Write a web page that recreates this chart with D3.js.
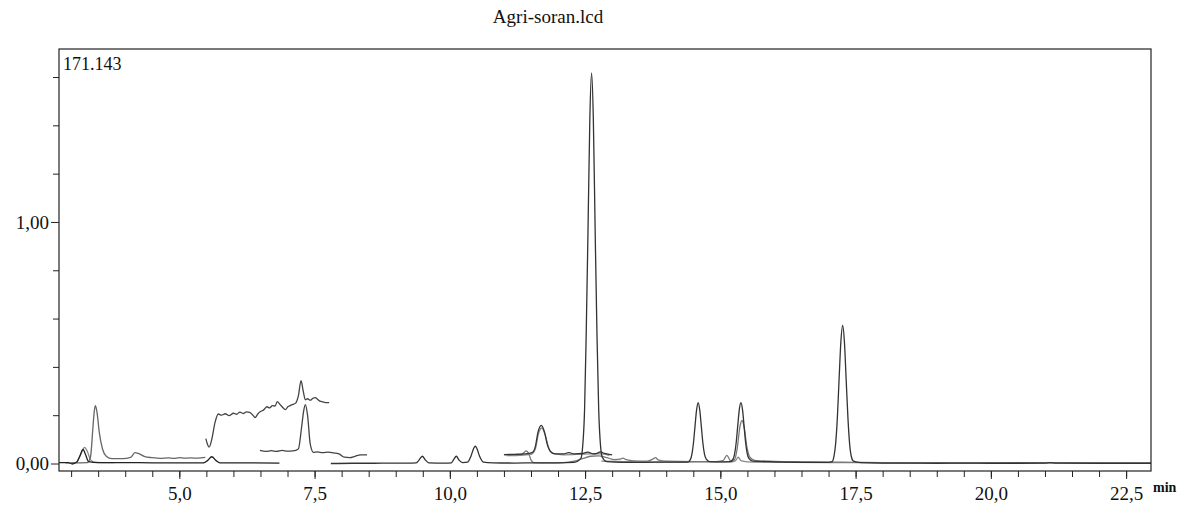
<!DOCTYPE html>
<html>
<head>
<meta charset="utf-8">
<script src="https://cdn.jsdelivr.net/npm/d3@7"></script>
<style>
  body { margin: 0; background: #fff; }
  svg { display: block; }
  .axis path { display: none; }
  .axis line { stroke: #222; }
</style>
</head>
<body>
<script>
// chart texts
var title = "Agri-soran.lcd";
var maxLabel = "171.143";
var unitLabel = "min";

// axis ticks
var xMinorTicks = d3.range(3, 23, 0.5);
var xMajorTicks = [5, 7.5, 10, 12.5, 15, 17.5, 20, 22.5];
var yMinorTicks = [0.2, 0.4, 0.6, 0.8, 1.2, 1.4, 1.6];
var yMajorTicks = [0, 1];

// traces: [time (min), signal]
var trace1 = [[2.78,0.004],[2.95,0.004],[3.02,-0.002],[3.1,0.005],[3.16,0.03],[3.22,0.058],[3.27,0.035],[3.32,0.008],[3.5,0.004],
  [4.0,0.004],[4.5,0.003],[5.0,0.003],[5.45,0.003],[5.52,0.012],[5.6,0.028],[5.68,0.012],[5.75,0.003],[6.3,0.003],[6.85,0.002]];

var trace2 = [[3.0,0.003],[3.3,0.004],[3.36,0.03],[3.4,0.14],[3.43,0.22],[3.45,0.24],[3.48,0.21],[3.52,0.13],[3.58,0.06],[3.65,0.03],
  [3.75,0.02],[3.95,0.02],[4.1,0.025],[4.18,0.045],[4.24,0.042],[4.35,0.03],[4.5,0.024],[4.65,0.021],[4.8,0.023],[4.9,0.021],
  [5.0,0.024],[5.1,0.022],[5.2,0.023],[5.35,0.022],[5.48,0.025]];

var trace3 = [[2.9,0.002],[3.1,0.005],[3.18,0.04],[3.25,0.067],[3.3,0.05],[3.36,0.015],[3.45,0.005],[3.8,0.004]];

var trace4 = [[5.49,0.103],[5.52,0.08],[5.55,0.068],[5.6,0.1],[5.66,0.17],[5.72,0.205],[5.78,0.2],[5.85,0.206],[5.92,0.198],
  [6.0,0.208],[6.06,0.204],[6.12,0.213],[6.18,0.207],[6.24,0.214],[6.3,0.212],[6.36,0.2],[6.4,0.19],[6.45,0.205],[6.5,0.215],
  [6.56,0.222],[6.62,0.235],[6.67,0.23],[6.72,0.24],[6.77,0.238],[6.81,0.256],[6.86,0.245],[6.9,0.235],[6.96,0.223],[7.01,0.236],
  [7.05,0.24],[7.1,0.245],[7.15,0.25],[7.2,0.28],[7.25,0.343],[7.29,0.3],[7.33,0.264],[7.37,0.268],[7.42,0.262],[7.47,0.27],
  [7.51,0.273],[7.56,0.265],[7.6,0.258],[7.65,0.255],[7.7,0.252],[7.77,0.252]];

var trace5 = [[6.49,0.054],[6.6,0.05],[6.7,0.053],[6.8,0.05],[6.9,0.054],[7.0,0.051],[7.1,0.052],[7.2,0.06],[7.26,0.15],[7.3,0.22],
  [7.33,0.244],[7.37,0.2],[7.42,0.08],[7.48,0.046],[7.55,0.048],[7.65,0.045],[7.75,0.047],[7.85,0.044],[7.95,0.04],[8.05,0.026],
  [8.15,0.024],[8.25,0.03],[8.35,0.036],[8.47,0.036]];

var traceMain = [[7.8,0.0],[8.2,0.001],[8.6,0.001],[8.9,0.002],[9.2,0.002],[9.38,0.003],[9.43,0.014],[9.49,0.03],[9.55,0.014],[9.61,0.003],
  [9.9,0.002],[10.03,0.003],[10.07,0.016],[10.12,0.03],[10.17,0.014],[10.24,0.004],[10.33,0.006],[10.39,0.03],[10.44,0.062],[10.47,0.072],
  [10.5,0.062],[10.55,0.03],[10.62,0.006],[10.8,0.003],[11.2,0.002],[11.6,0.003],[12.0,0.003],[12.3,0.005],[12.42,0.02],[12.455,0.07],
  [12.49,0.22],[12.52,0.53],[12.555,0.98],[12.588,1.43],[12.62,1.617],[12.652,1.43],[12.685,0.98],[12.72,0.53],[12.752,0.22],[12.785,0.075],
  [12.82,0.025],[12.9,0.008],[13.2,0.005],[13.6,0.005],[14.0,0.006],[14.4,0.006],[14.445,0.016],[14.474,0.038],[14.503,0.085],[14.532,0.155],
  [14.561,0.222],[14.59,0.252],[14.619,0.222],[14.648,0.155],[14.677,0.085],[14.706,0.04],[14.74,0.018],[14.8,0.008],[15.0,0.007],
  [15.19,0.008],[15.235,0.018],[15.264,0.04],[15.293,0.087],[15.322,0.157],[15.351,0.224],[15.38,0.252],[15.409,0.224],[15.438,0.157],
  [15.467,0.087],[15.496,0.042],[15.53,0.02],[15.6,0.01],[16.0,0.007],[16.5,0.005],[17.0,0.005],[17.065,0.008],[17.1,0.03],[17.13,0.08],
  [17.163,0.19],[17.195,0.35],[17.228,0.505],[17.26,0.572],[17.293,0.505],[17.325,0.35],[17.358,0.19],[17.39,0.08],[17.42,0.03],
  [17.46,0.01],[17.6,0.004],[18.0,0.002],[18.5,0.002],[19.0,0.001],[19.5,0.002],[20.0,0.001],[20.5,0.001],[21.0,0.002],[21.1,0.004],
  [21.2,0.002],[22.0,0.001],[22.96,0.001]];

var trace6 = [[11.0,0.037],[11.15,0.036],[11.3,0.037],[11.36,0.043],[11.41,0.052],[11.46,0.04],[11.5,0.015],[11.55,0.004],[11.8,0.003],
  [12.1,0.004],[12.3,0.01],[12.45,0.02],[12.6,0.03],[12.75,0.032],[12.9,0.024],[13.05,0.016],[13.15,0.018],[13.2,0.022],[13.26,0.016],
  [13.4,0.011],[13.65,0.01],[13.75,0.018],[13.8,0.024],[13.86,0.014],[14.0,0.01],[14.5,0.008],[14.9,0.008],[15.05,0.012],[15.12,0.034],
  [15.19,0.012],[15.26,0.016],[15.31,0.06],[15.36,0.15],[15.4,0.178],[15.44,0.15],[15.49,0.07],[15.55,0.025],[15.65,0.012],[16.0,0.009],
  [16.5,0.007],[17.0,0.006],[17.5,0.005],[18.0,0.004],[19.0,0.003],[20.0,0.003],[21.0,0.004],[22.0,0.002],[22.96,0.002]];

var trace7 = [[11.0,0.037],[11.2,0.038],[11.4,0.04],[11.52,0.045],[11.58,0.07],[11.63,0.13],[11.69,0.158],[11.75,0.13],[11.8,0.08],
  [11.86,0.05],[11.95,0.04],[12.1,0.04],[12.2,0.045],[12.3,0.04],[12.45,0.042],[12.55,0.047],[12.65,0.04],[12.72,0.042],[12.78,0.048],
  [12.86,0.042],[13.0,0.036]];

var trace8 = [[11.05,0.033],[11.3,0.034],[11.5,0.038],[11.58,0.06],[11.64,0.125],[11.7,0.147],[11.76,0.12],[11.82,0.07],[11.9,0.042],
  [12.1,0.036],[12.4,0.038],[12.6,0.04],[12.8,0.04],[12.95,0.034]];

var trace9 = [[12.8,0.01],[13.2,0.008],[13.8,0.006],[14.3,0.006],[14.8,0.007],[15.2,0.007],[15.28,0.012],[15.33,0.026],[15.38,0.012],
  [15.5,0.007],[16,0.005],[17,0.004],[18,0.003],[19,0.002],[20,0.002],[21,0.003],[22.96,0.002]];

var traces = [
  {data: trace9, color: "#888"},
  {data: trace6, color: "#777"},
  {data: trace8, color: "#888"},
  {data: trace3, color: "#888"},
  {data: trace2, color: "#666"},
  {data: trace4, color: "#444"},
  {data: trace5, color: "#444"},
  {data: trace7, color: "#333"},
  {data: trace1, color: "#222"},
  {data: traceMain, color: "#333"}
];

var serif = "'Liberation Serif', 'Times New Roman', serif";

var width = 1184,
    height = 506;
var margin = {top: 49, right: 33, bottom: 35, left: 59};
var plotW = width - margin.left - margin.right,
    plotH = height - margin.top - margin.bottom;

var x = d3.scaleLinear().domain([2.776, 22.96]).range([0, plotW]);
var y = d3.scaleLinear().domain([-0.031, 1.716]).range([plotH, 0]);

var commaFmt = function(f) { return function(d) { return d3.format(f)(d).replace(".", ","); }; };

var svg = d3.select("body").append("svg")
    .attr("width", width)
    .attr("height", height);

svg.append("text")
    .attr("x", 548)
    .attr("y", 23)
    .attr("text-anchor", "middle")
    .attr("fill", "#111")
    .style("font-family", serif)
    .style("font-size", "19px")
    .text(title);

var g = svg.append("g")
    .attr("transform", "translate(" + margin.left + "," + margin.top + ")");

g.append("clipPath").attr("id", "clip")
  .append("rect").attr("width", plotW).attr("height", plotH);

var line = d3.line()
    .x(function(d) { return x(d[0]); })
    .y(function(d) { return y(d[1]); })
    .curve(d3.curveMonotoneX);

g.append("g").attr("clip-path", "url(#clip)")
  .selectAll("path")
  .data(traces)
  .enter().append("path")
    .attr("d", function(d) { return line(d.data); })
    .attr("fill", "none")
    .attr("stroke", function(d) { return d.color; })
    .attr("stroke-width", 1.3)
    .attr("stroke-linejoin", "round");

// frame
g.append("rect")
    .attr("width", plotW)
    .attr("height", plotH)
    .attr("fill", "none")
    .attr("stroke", "#222")
    .attr("stroke-width", 1.2);

// x axis
g.append("g").attr("class", "axis")
    .attr("transform", "translate(0," + plotH + ")")
    .call(d3.axisBottom(x).tickValues(xMinorTicks).tickSize(6).tickFormat(""));

g.append("g").attr("class", "axis")
    .attr("transform", "translate(0," + plotH + ")")
    .call(d3.axisBottom(x).tickValues(xMajorTicks).tickSize(8).tickPadding(8).tickFormat(commaFmt(".1f")));

// y axis
g.append("g").attr("class", "axis")
    .call(d3.axisLeft(y).tickValues(yMinorTicks).tickSize(6).tickFormat(""));

g.append("g").attr("class", "axis")
    .call(d3.axisLeft(y).tickValues(yMajorTicks).tickSize(8).tickPadding(2).tickFormat(commaFmt(".2f")));

svg.selectAll(".axis text")
    .style("font-family", serif)
    .style("font-size", "19px")
    .attr("fill", "#111");

g.append("text")
    .attr("x", 4)
    .attr("y", 21)
    .attr("fill", "#111")
    .style("font-family", serif)
    .style("font-size", "18px")
    .text(maxLabel);

g.append("text")
    .attr("x", plotW + 2)
    .attr("y", plotH + 21)
    .attr("fill", "#111")
    .style("font-family", serif)
    .style("font-size", "14px")
    .style("font-weight", "bold")
    .text(unitLabel);
</script>
</body>
</html>
